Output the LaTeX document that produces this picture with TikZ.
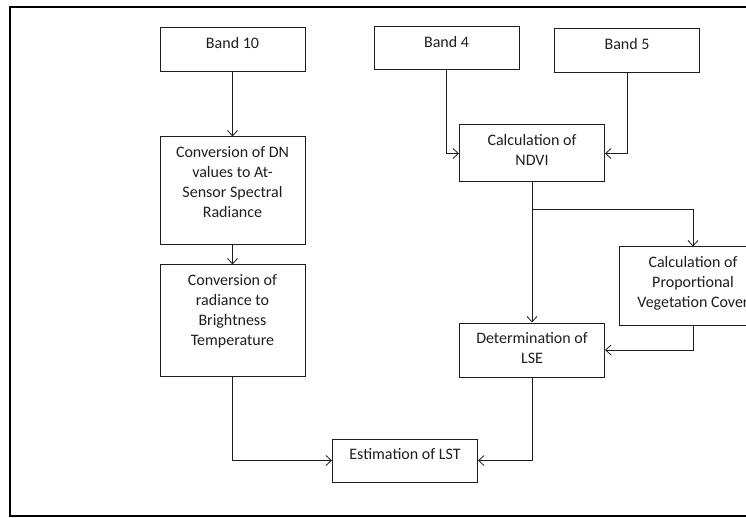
\documentclass[tikz,border=0pt]{standalone}
\usepackage{fontspec}
\setmainfont{Carlito}
\usepackage{xcolor}
\usepackage{tikz}
\usetikzlibrary{arrows.meta}
\definecolor{LSTInk}{RGB}{30,30,30}

\begin{document}
\begin{tikzpicture}[x=1pt, y=-1pt,
      nbox/.style={rectangle, draw=LSTInk, line width=1pt, minimum width=145pt,
                   inner sep=0pt},
      ntxt/.style={anchor=north, align=center, inner sep=0pt, yshift=-10pt,
                   text=LSTInk, font=\fontsize{16}{20}\selectfont},
      arr/.style={-{Straight Barb[length=5.5pt, width=10pt]}, draw=LSTInk, line width=0.8pt}
    ]
    \useasboundingbox (0,0) rectangle (746,518);
    \clip (0,0) rectangle (746,518);
    \draw[line width=2pt] (9.5,7.5) rectangle (780,516);

    \node[nbox, minimum height=44pt,  label={[ntxt]north:Band 10}] (band10) at (232.5,50) {};
    \node[nbox, minimum height=43pt,  label={[ntxt]north:Band 4}]  (band4)  at (446.5,48.5) {};
    \node[nbox, minimum height=44pt,  label={[ntxt]north:Band 5}]  (band5)  at (627,51) {};
    \node[nbox, minimum height=108pt,
          label={[ntxt]north:Conversion of DN\\values to At-\\Sensor Spectral\\Radiance}]
          (dn) at (232.5,191) {};
    \node[nbox, minimum height=57pt,
          label={[ntxt]north:Calculation of\\NDVI}] (ndvi) at (532,153.5) {};
    \node[nbox, minimum height=111pt,
          label={[ntxt]north:Conversion of\\radiance to\\Brightness\\Temperature}]
          (rad) at (232.5,320.5) {};
    \node[nbox, minimum height=78pt, minimum width=148pt,
          label={[ntxt]north:Calculation of\\Proportional\\Vegetation Cover}]
          (pvc) at (693,286) {};
    \node[nbox, minimum height=54pt,
          label={[ntxt]north:Determination of\\LSE}] (lse) at (532,350) {};
    \node[nbox, minimum height=43pt,
          label={[ntxt]north:Estimation of LST}] (lst) at (405,460.5) {};

    \coordinate (fork) at (532,209);

    \draw[arr] (band10) -- (dn);
    \draw[arr] (dn) -- (rad);
    \draw[arr] (band4.south) |- (ndvi.west);
    \draw[arr] (band5.south) |- (ndvi.east);
    \draw[arr] (ndvi) -- (lse);
    \draw[arr] (fork) -| (pvc.north);
    \draw[arr] (pvc.south) |- (lse.east);
    \draw[arr] (rad.south) |- (lst.west);
    \draw[arr] (lse.south) |- (lst.east);
  \end{tikzpicture}
\end{document}
